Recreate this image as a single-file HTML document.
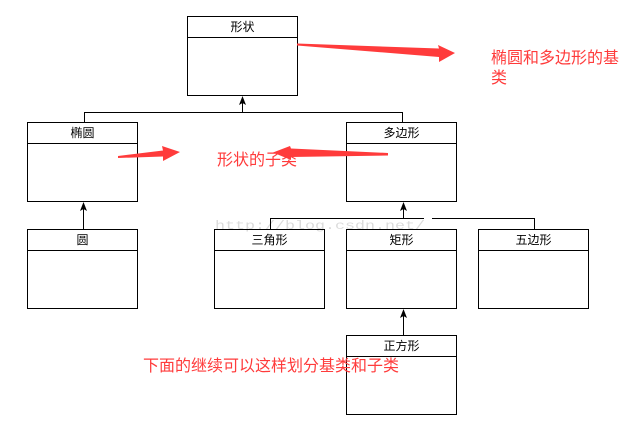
<!DOCTYPE html>
<html><head><meta charset="utf-8"><style>
html,body{margin:0;padding:0;background:#fff;}
svg{display:block;}
.lbl{font-family:"Liberation Sans","Noto Sans CJK SC","WenQuanYi Zen Hei",sans-serif;font-size:12px;fill:#000;text-anchor:middle;}
.red{font-family:"Liberation Sans","Noto Sans CJK SC","WenQuanYi Zen Hei",sans-serif;font-size:16px;fill:#ff3b3b;}
.wm{font-family:"Liberation Mono",monospace;font-size:12px;fill:#dcdcdc;}
</style></head><body>
<svg width="627" height="428" viewBox="0 0 627 428" xmlns="http://www.w3.org/2000/svg">
<text class="wm" x="215" y="229" textLength="210" lengthAdjust="spacingAndGlyphs">http://blog.csdn.net/</text>
<g fill="none" stroke="#000" stroke-width="1">
  <rect x="187.5" y="16.5" width="110" height="79"/><line x1="187.5" y1="37.5" x2="297.5" y2="37.5"/>
  <rect x="27.5" y="122.5" width="110" height="79"/><line x1="27.5" y1="143.5" x2="137.5" y2="143.5"/>
  <rect x="346.5" y="122.5" width="110" height="79"/><line x1="346.5" y1="143.5" x2="456.5" y2="143.5"/>
  <rect x="27.5" y="229.5" width="110" height="79"/><line x1="27.5" y1="250.5" x2="137.5" y2="250.5"/>
  <rect x="214.5" y="229.5" width="110" height="79"/><line x1="214.5" y1="250.5" x2="324.5" y2="250.5"/>
  <rect x="346.5" y="229.5" width="110" height="79"/><line x1="346.5" y1="250.5" x2="456.5" y2="250.5"/>
  <rect x="478.5" y="229.5" width="110" height="79"/><line x1="478.5" y1="250.5" x2="588.5" y2="250.5"/>
  <rect x="346.5" y="335.5" width="110" height="79"/><line x1="346.5" y1="356.5" x2="456.5" y2="356.5"/>

  <polyline points="84.5,122 84.5,112.5 402.5,112.5 402.5,122"/>
  <line x1="242.5" y1="112.5" x2="242.5" y2="100"/>
  <line x1="83.5" y1="229" x2="83.5" y2="207"/>
  <polyline points="270.5,229 270.5,218.5 424,218.5"/>
  <polyline points="432,218.5 534.5,218.5 534.5,229"/>
  <line x1="403.5" y1="218.5" x2="403.5" y2="206"/>
  <line x1="403.5" y1="335" x2="403.5" y2="312"/>
</g>
<g fill="#000">
  <polygon points="242.5,96 239,105 242.5,103 246,105"/>
  <polygon points="83.5,202 80,211 83.5,209 87,211"/>
  <polygon points="403.5,202 400,211 403.5,209 407,211"/>
  <polygon points="403.5,309 400,318 403.5,316 407,318"/>
</g>
<g class="lbl">
  <text x="242.5" y="31">形状</text>
  <text x="82.5" y="137">椭圆</text>
  <text x="401.5" y="137">多边形</text>
  <text x="82.5" y="244">圆</text>
  <text x="269.5" y="244">三角形</text>
  <text x="401.5" y="244">矩形</text>
  <text x="533.5" y="244">五边形</text>
  <text x="401.5" y="350">正方形</text>
</g>
<text class="red" x="491" y="63">椭圆和多边形的基</text>
<text class="red" x="491" y="83">类</text>
<text class="red" x="217" y="165">形状的子类</text>
<text class="red" x="143" y="371">下面的继续可以这样划分基类和子类</text>
<g fill="#ff3b3b">
  <polygon points="297,43.5 439,48.5 438,45 455,53 439,62 439,57 297,45.5"/>
  <polygon points="118,156 163,150.5 162,146 180,152 163,161 163,156.5 118,158"/>
  <polygon points="388,153 291,148.5 290,146 273,152.5 291,160 291,157 388,155.5"/>
</g>
</svg>
</body></html>
